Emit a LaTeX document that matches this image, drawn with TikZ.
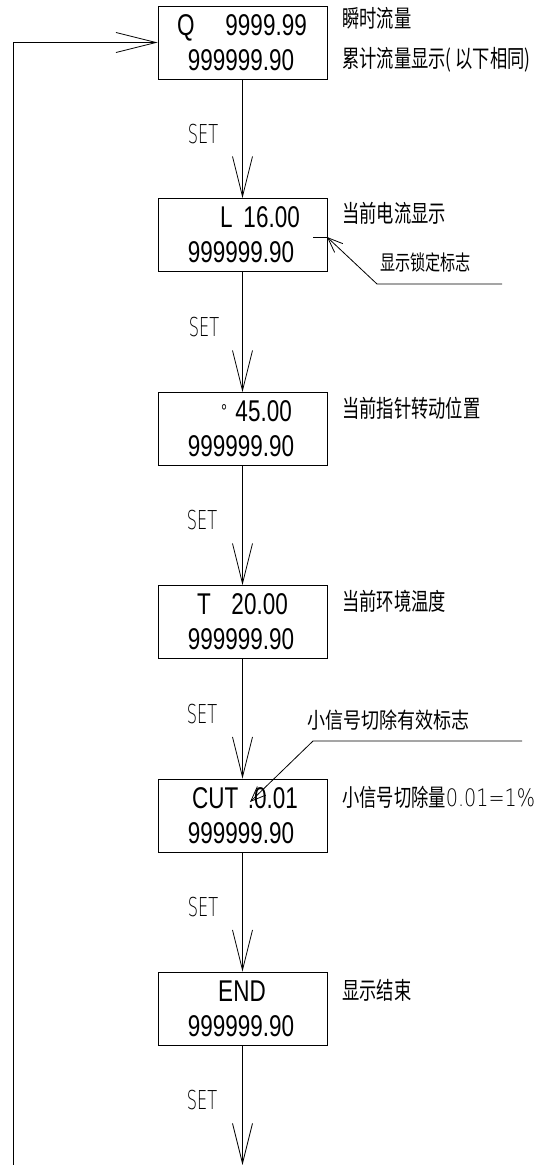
\documentclass[tikz,border=0pt]{standalone}
\usepackage{fontspec}
\usetikzlibrary{arrows.meta}
\newfontfamily\boxfont[FakeStretch=0.75]{Liberation Sans}
\newfontfamily\cjk[FakeStretch=0.72]{Noto Sans CJK SC}
\newfontfamily\cadfont[FakeStretch=0.62]{DejaVuSans-ExtraLight.ttf}
\newfontfamily\cadwide[FakeStretch=0.8]{DejaVuSans-ExtraLight.ttf}
\tikzset{
  box/.style={draw, line width=0.8pt, minimum width=169pt, minimum height=73pt, inner sep=0pt},
  bt/.style={inner sep=0pt, font=\boxfont\fontsize{30}{36}\selectfont},
  lbl/.style={inner sep=0pt, anchor=west, font=\cjk\fontsize{24}{28}\selectfont},
  slbl/.style={inner sep=0pt, anchor=west, font=\cjk\fontsize{21}{25}\selectfont},
  setl/.style={inner sep=0pt, font=\cadfont\fontsize{26}{30}\selectfont},
  flow/.style={line width=0.8pt, -{Straight Barb[length=40pt,width=20pt,line width=0.8pt]}},
  lead/.style={line width=0.8pt},
  leadarrow/.style={line width=0.8pt, -{Straight Barb[length=15pt,width=12pt,line width=0.8pt]}},
}
\begin{document}
\begin{tikzpicture}[x=1pt,y=-1pt]
\useasboundingbox (0,0) rectangle (551,1165);
% boxes
\node[box] (b1) at (242.5,42.5) {};
\node[box] (b2) at (242.5,235) {};
\node[box] (b3) at (242.5,429) {};
\node[box] (b4) at (242.5,622) {};
\node[box] (b5) at (242.5,815.5) {};
\node[box] (b6) at (242.5,1008.5) {};
% box texts
\node[bt, anchor=base west] (q1) at (177,35) {Q};
\node[bt, anchor=base east] (q2) at (307,35) {9999.99};
\node[bt, anchor=base] (q3) at (241,70) {999999.90};
\node[bt, anchor=base west] (l1) at (220,227.5) {L};
\node[bt, anchor=base east] (l2) at (300,227.5) {16.00};
\node[bt, anchor=base] (l3) at (241,262.5) {999999.90};
\node[bt, anchor=base west, font=\boxfont\fontsize{20}{24}\selectfont] (d1) at (221,418) {°};
\node[bt, anchor=base east] (d2) at (292,421.5) {45.00};
\node[bt, anchor=base] (d3) at (241,456.5) {999999.90};
\node[bt, anchor=base west] (t1) at (197,614.5) {T};
\node[bt, anchor=base east] (t2) at (288,614.5) {20.00};
\node[bt, anchor=base] (t3) at (241,649.5) {999999.90};
\node[bt, anchor=base west] (c1) at (192,808) {CUT};
\node[bt, anchor=base east] (c2) at (298,808) {.0.01};
\node[bt, anchor=base] (c3) at (241,843) {999999.90};
\node[bt, anchor=base] (e1) at (242,1001) {END};
\node[bt, anchor=base] (e3) at (241,1036) {999999.90};
% flow arrows
\draw[flow] (b1.south) -- (b2.north);
\draw[flow] (b2.south) -- (b3.north);
\draw[flow] (b3.south) -- (b4.north);
\draw[flow] (b4.south) -- (b5.north);
\draw[flow] (b5.south) -- (b6.north);
\coordinate (fend) at (242.5,1165);
\draw[flow] (b6.south) -- (fend);
\coordinate (lb) at (13,1165);
\draw[flow] (lb) |- (b1.west);
% SET labels
\node[setl] (s1) at (203,134) {SET};
\node[setl] (s2) at (204,327) {SET};
\node[setl] (s3) at (202,520) {SET};
\node[setl] (s4) at (202,714) {SET};
\node[setl] (s5) at (203,907) {SET};
\node[setl] (s6) at (202,1100) {SET};
% right labels
\node[lbl] (r1a) at (342,18) {瞬时流量};
\node[lbl] (r1b) at (342,60) {累计流量显示( 以下相同)};
\node[lbl] (r2) at (342,213) {当前电流显示};
\node[lbl] (r3) at (342,408) {当前指针转动位置};
\node[lbl] (r4) at (342,601) {当前环境温度};
\node[lbl] (r5) at (342,797) {小信号切除量{\cadwide\fontsize{24}{28}\selectfont 0.01=1\%}};
\node[lbl] (r6) at (342,990) {显示结束};
% lock mark leader
\coordinate (lk1) at (313,237);
\coordinate (lktip) at (327,237);
\draw[lead] (lk1) -- (lktip);
\coordinate (lkelbow) at (377,284);
\coordinate (lkend) at (502,284);
\draw[leadarrow] (lkend) -- (lkelbow) -- (lktip);
\node[slbl] (lkl) at (380,262) {显示锁定标志};
% cut leader
\coordinate (ctend) at (522,741);
\coordinate (ctelbow) at (313,741);
\coordinate (cttip) at (250,802);
\draw[leadarrow] (ctend) -- (ctelbow) -- (cttip);
\node[lbl, font=\cjk\addfontfeature{FakeStretch=0.82}\fontsize{22}{26}\selectfont] (ctl) at (307,720) {小信号切除有效标志};
\end{tikzpicture}
\end{document}
